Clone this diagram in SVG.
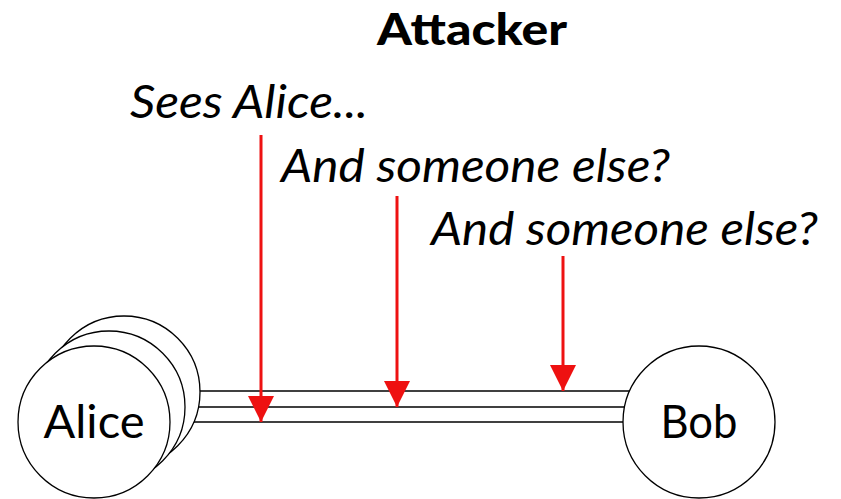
<svg xmlns="http://www.w3.org/2000/svg" width="841" height="499" viewBox="0 0 841 499">
  <style>
    .node { fill: #fff; stroke: #000; stroke-width: 1.3; }
    .link { stroke: #000; stroke-width: 1.3; fill: none; }
    .label { font-family: Lato, "Open Sans", sans-serif; font-size: 46px; fill: #000; }
    .note { font-family: Lato, "Open Sans", sans-serif; font-style: italic; font-size: 46px; fill: #000; }
    .title { font-family: Lato, "Open Sans", sans-serif; font-weight: 900; font-size: 44px; fill: #000; }
    .probe { stroke: #ee1111; stroke-width: 3; fill: none; }
  </style>
  <defs>
    <marker id="head" markerUnits="userSpaceOnUse" markerWidth="26" markerHeight="26" refX="26" refY="13" orient="auto" viewBox="0 0 26 26">
      <path d="M0,0 L26,13 L0,26 Z" fill="#ee1111"/>
    </marker>
  </defs>

  <!-- links between Alice's copies and Bob -->
  <g id="connectors">
    <line class="link" x1="124" y1="391" x2="699" y2="391"/>
    <line class="link" x1="109" y1="407" x2="699" y2="407"/>
    <line class="link" x1="94" y1="422" x2="699" y2="422"/>
  </g>

  <!-- Alice, stacked copies back to front -->
  <g id="alice">
    <circle class="node" cx="124" cy="392" r="76"/>
    <circle class="node" cx="109" cy="407" r="76"/>
    <circle class="node" cx="94" cy="422" r="76"/>
    <text class="label" x="94" y="438" text-anchor="middle" textLength="101" lengthAdjust="spacingAndGlyphs">Alice</text>
  </g>

  <g id="bob">
    <circle class="node" cx="699" cy="422" r="76"/>
    <text class="label" x="699" y="438" text-anchor="middle" textLength="77" lengthAdjust="spacingAndGlyphs">Bob</text>
  </g>

  <!-- attacker observations -->
  <g id="attacker">
    <text class="title" x="472" y="45" text-anchor="middle" textLength="190" lengthAdjust="spacingAndGlyphs">Attacker</text>
    <text class="note" x="130" y="118" textLength="238" lengthAdjust="spacingAndGlyphs">Sees Alice...</text>
    <text class="note" x="281" y="182" textLength="389" lengthAdjust="spacingAndGlyphs">And someone else?</text>
    <text class="note" x="431" y="245" textLength="387" lengthAdjust="spacingAndGlyphs">And someone else?</text>
  </g>

  <g id="probes">
    <line class="probe" x1="261" y1="135" x2="261" y2="422" marker-end="url(#head)"/>
    <line class="probe" x1="397" y1="196" x2="397" y2="407" marker-end="url(#head)"/>
    <line class="probe" x1="563" y1="256" x2="563" y2="391" marker-end="url(#head)"/>
  </g>
</svg>
